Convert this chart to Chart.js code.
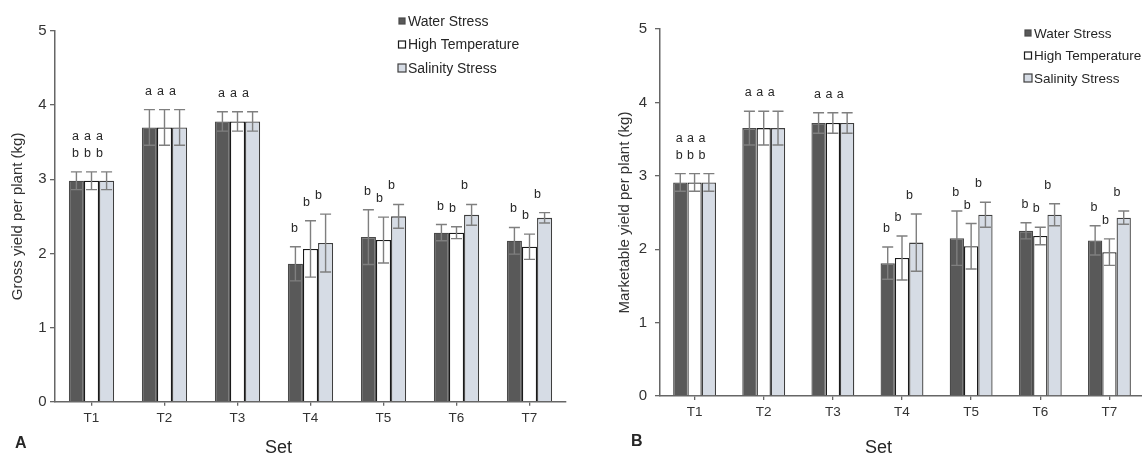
<!DOCTYPE html>
<html>
<head>
  <meta charset="utf-8">
  <title>Gross and marketable yield per plant</title>
  <script src="https://cdn.jsdelivr.net/npm/chart.js@4.4.1/dist/chart.umd.min.js"></script>
  <style>
    html, body { margin: 0; padding: 0; background: #fff; overflow: hidden; }
    body { width: 1142px; height: 455px; position: relative; font-family: "Liberation Sans", Arial, sans-serif; color: #262626; }
    .panel { position: absolute; top: 0; height: 455px; }
    .tag { position: absolute; font-weight: bold; font-size: 16px; line-height: 18px; }
    .xlab { position: absolute; font-size: 18px; line-height: 20px; }
  </style>
</head>
<body>
  <div class="panel" style="left:0;width:570px"><canvas id="chartA"></canvas></div>
  <div class="panel" style="left:570px;width:576px"><canvas id="chartB"></canvas></div>
  <div class="tag" style="left:15px;top:434px">A</div>
  <div class="tag" style="left:631px;top:432px">B</div>
  <div class="xlab" style="left:265px;top:437px">Set</div>
  <div class="xlab" style="left:865px;top:437px">Set</div>

  <script>
    // categories and series
    const sets = ['T1', 'T2', 'T3', 'T4', 'T5', 'T6', 'T7'];
    const seriesNames = ['Water Stress', 'High Temperature', 'Salinity Stress'];
    const yTicks = [0, 1, 2, 3, 4, 5];

    // A: gross yield per plant (kg), means and error bars
    const grossWater = [2.98, 3.70, 3.78, 1.86, 2.22, 2.28, 2.17];
    const grossWaterErr = [0.12, 0.24, 0.13, 0.23, 0.37, 0.11, 0.18];
    const grossHeat = [2.98, 3.70, 3.78, 2.06, 2.18, 2.28, 2.09];
    const grossHeatErr = [0.12, 0.24, 0.13, 0.38, 0.31, 0.08, 0.17];
    const grossSalt = [2.98, 3.70, 3.78, 2.14, 2.50, 2.52, 2.48];
    const grossSaltErr = [0.12, 0.24, 0.13, 0.39, 0.16, 0.14, 0.07];

    // B: marketable yield per plant (kg)
    const mktWater = [2.91, 3.65, 3.72, 1.81, 2.15, 2.25, 2.12];
    const mktWaterErr = [0.12, 0.23, 0.14, 0.22, 0.37, 0.11, 0.20];
    const mktHeat = [2.91, 3.65, 3.72, 1.88, 2.04, 2.18, 1.96];
    const mktHeatErr = [0.12, 0.23, 0.14, 0.30, 0.31, 0.12, 0.18];
    const mktSalt = [2.91, 3.65, 3.72, 2.09, 2.47, 2.47, 2.43];
    const mktSaltErr = [0.12, 0.23, 0.14, 0.39, 0.17, 0.15, 0.09];

    // significance letters (top to bottom)
    const lettersWater = ['ab', 'a', 'a', 'b', 'b', 'b', 'b'];
    const lettersHeat = ['ab', 'a', 'a', 'b', 'b', 'b', 'b'];
    const lettersSalt = ['ab', 'a', 'a', 'b', 'b', 'b', 'b'];

    const FONT = '"Liberation Sans", Arial, sans-serif';
    const styles = [
      { bg: '#595959', border: '#4a4a4a', box: 6 },
      { bg: '#ffffff', border: '#1a1a1a', box: 7 },
      { bg: '#d6dce5', border: '#3f3f3f', box: 8 }
    ];

    function buildDatasets(values, errors) {
      const letters = [lettersWater, lettersHeat, lettersSalt];
      return values.map((v, i) => ({
        label: seriesNames[i],
        data: v,
        errors: errors[i],
        letters: letters[i],
        backgroundColor: styles[i].bg,
        borderColor: styles[i].border,
        borderWidth: 1.3,
        barPercentage: 1,
        categoryPercentage: 0.62
      }));
    }

    // error bars, letters and the legend
    const extras = {
      id: 'extras',
      afterDatasetsDraw(chart, args, o) {
        const ctx = chart.ctx;
        const x = chart.scales.x, y = chart.scales.y;
        ctx.save();
        chart.data.datasets.forEach((ds, di) => {
          const meta = chart.getDatasetMeta(di);
          meta.data.forEach((bar, i) => {
            const v = ds.data[i], e = ds.errors[i];
            const top = y.getPixelForValue(v + e);
            const bot = y.getPixelForValue(v - e);
            ctx.strokeStyle = '#7f7f7f';
            ctx.lineWidth = 1.4;
            ctx.beginPath();
            ctx.moveTo(bar.x, top); ctx.lineTo(bar.x, bot);
            ctx.moveTo(bar.x - 5.5, top); ctx.lineTo(bar.x + 5.5, top);
            ctx.moveTo(bar.x - 5.5, bot); ctx.lineTo(bar.x + 5.5, bot);
            ctx.stroke();

            const cx = x.getPixelForValue(i);
            const lx = cx + (bar.x - cx) * 0.8 - 4;
            const chars = ds.letters[i].split('');
            ctx.fillStyle = '#262626';
            ctx.font = o.letterSize + 'px ' + FONT;
            ctx.textAlign = 'center';
            ctx.textBaseline = 'alphabetic';
            chars.forEach((ch, k) => {
              ctx.fillText(ch, lx, top - o.letterGap - (chars.length - 1 - k) * o.lineGap);
            });
          });
        });
        ctx.restore();
      },
      afterDraw(chart, args, o) {
        const ctx = chart.ctx;
        ctx.save();
        ctx.font = o.legendSize + 'px ' + FONT;
        ctx.textAlign = 'left';
        ctx.textBaseline = 'middle';
        chart.data.datasets.forEach((ds, i) => {
          const yy = o.legendY + i * o.legendGap;
          const s = styles[i].box;
          ctx.fillStyle = ds.backgroundColor;
          ctx.fillRect(o.legendX - s / 2, yy - s / 2, s, s);
          ctx.strokeStyle = ds.borderColor;
          ctx.lineWidth = 1.2;
          ctx.strokeRect(o.legendX - s / 2, yy - s / 2, s, s);
          ctx.fillStyle = '#262626';
          ctx.fillText(ds.label, o.legendX + 6, yy + 1);
        });
        ctx.restore();
      }
    };

    function makeChart(id, datasets, cfg) {
      return new Chart(document.getElementById(id), {
        type: 'bar',
        data: { labels: sets, datasets: datasets },
        plugins: [extras],
        options: {
          responsive: true,
          maintainAspectRatio: false,
          animation: false,
          layout: { padding: { top: cfg.top, right: cfg.right, left: cfg.left, bottom: 0 } },
          plugins: {
            legend: { display: false },
            tooltip: { enabled: false },
            extras: cfg.extras
          },
          scales: {
            x: {
              offset: true,
              grid: { drawOnChartArea: false, drawTicks: true, tickLength: 4, offset: false, color: '#666', lineWidth: 1.3 },
              border: { display: true, color: '#666', width: 1.5 },
              ticks: { color: '#333', font: { size: 13.5, family: FONT }, padding: cfg.xPad, maxRotation: 0 },
              afterFit(s) { s.height = cfg.xh; }
            },
            y: {
              min: 0,
              max: 5,
              afterBuildTicks(s) { s.ticks = yTicks.map(v => ({ value: v })); },
              ticks: { color: '#333', font: { size: 15, family: FONT }, padding: cfg.yPad },
              grid: { drawOnChartArea: false, drawTicks: true, tickLength: 5, color: '#666', lineWidth: 1.3 },
              border: { display: true, color: '#666', width: 1.5 },
              title: { display: true, text: cfg.yTitle, color: '#333', font: { size: 15, family: FONT }, padding: { top: cfg.titlePad, bottom: 0 } },
              afterFit(s) { s.width = cfg.yw; }
            }
          }
        }
      });
    }

    makeChart('chartA',
      buildDatasets([grossWater, grossHeat, grossSalt], [grossWaterErr, grossHeatErr, grossSaltErr]),
      {
        top: 31, right: 4, left: 0, yw: 55, xh: 53.3, xPad: 4, yPad: 3.5, titlePad: 8.5,
        yTitle: 'Gross yield per plant (kg)',
        extras: { letterSize: 12.5, letterGap: 15, lineGap: 17, legendSize: 14, legendX: 402, legendY: 21, legendGap: 23.5 }
      });

    makeChart('chartB',
      buildDatasets([mktWater, mktHeat, mktSalt], [mktWaterErr, mktHeatErr, mktSaltErr]),
      {
        top: 29, right: 2, left: 37, yw: 53, xh: 59, xPad: 4.6, yPad: 8, titlePad: 9,
        yTitle: 'Marketable yield per plant (kg)',
        extras: { letterSize: 12.5, letterGap: 15, lineGap: 17, legendSize: 13.5, legendX: 458, legendY: 33, legendGap: 22.5 }
      });
  </script>
</body>
</html>
